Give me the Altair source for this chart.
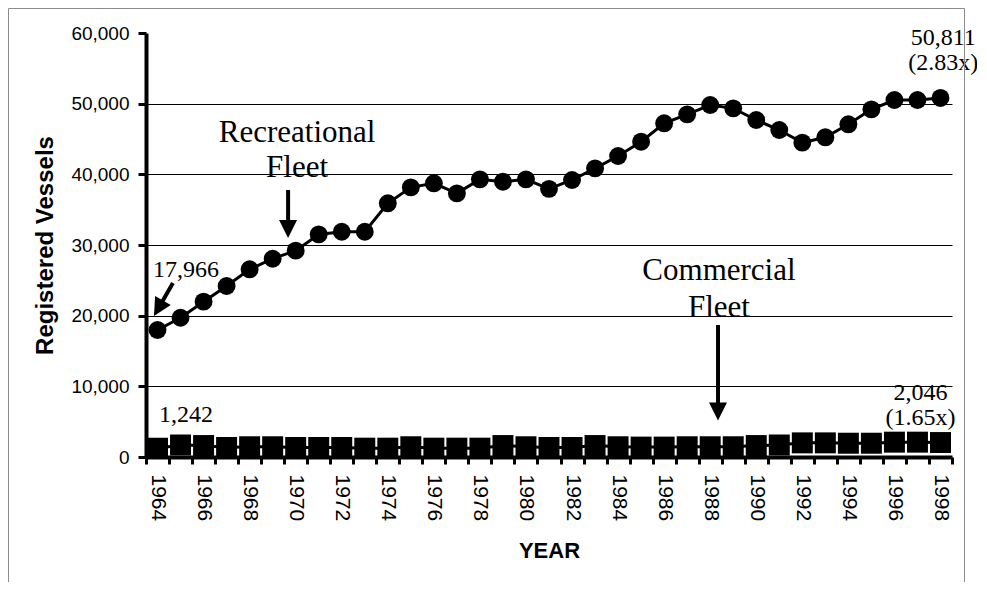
import altair as alt
import pandas as pd

# ---------------- data ----------------
years = list(range(1964, 1999))
recreational = [17966, 19710, 21980, 24200, 26560, 28060, 29200, 31500, 31880, 31880,
                35900, 38160, 38730, 37310, 39290, 38960, 39290, 37950, 39200, 40850,
                42590, 44620, 47220, 48490, 49810, 49340, 47690, 46270, 44480, 45240,
                47080, 49200, 50520, 50520, 50811]
commercial = [1242, 1700, 1620, 1350, 1450, 1450, 1350, 1350, 1350, 1250,
              1250, 1450, 1250, 1250, 1250, 1620, 1450, 1350, 1350, 1620,
              1450, 1400, 1400, 1450, 1450, 1450, 1620, 1700, 2000, 2000,
              1950, 1950, 2100, 2100, 2046]
y_ticks = [0, 10000, 20000, 30000, 40000, 50000, 60000]

# annotations (data coordinates)
note_text = ["17,966", "Recreational", "Fleet", "50,811", "(2.83x)",
             "Commercial", "Fleet", "1,242", "2,046", "(1.65x)"]
note_x = [1963.8, 1970.06, 1970.06, 1998.12, 1998.12,
          1988.38, 1988.38, 1964.06, 1997.13, 1997.13]
note_y = [25470, 44570, 39620, 58300, 54760,
          25045, 19810, 4950, 8065, 4530]
note_size = [24, 31, 31, 24, 24, 31, 31, 24, 24, 24]
note_align = ["left", "center", "center", "center", "center",
              "center", "center", "left", "center", "center"]

arrow_x1 = [1969.67, 1988.34, 1964.67]
arrow_y1 = [37780, 18680, 24620]
arrow_x2 = [1969.67, 1988.34, 1964.04]
arrow_y2 = [32400, 6600, 21055]
head_x = [1969.67, 1988.34, 1964.04]
head_y = [32260, 6440, 21055]
head_angle = [0, 0, 30]

# ---------------- layout ----------------
W, H = 806, 424
PAD_L, PAD_T, PAD_R, PAD_B = 138, 25, 25, 125
band = W / len(years)

rec_df = pd.DataFrame({"year": years, "value": recreational})
com_df = pd.DataFrame({"year": years, "value": commercial})
notes_df = pd.DataFrame({"text": note_text, "year": note_x, "value": note_y,
                         "size": note_size, "align": note_align})
arrows_df = pd.DataFrame({"year": arrow_x1, "value": arrow_y1, "x2": arrow_x2, "y2": arrow_y2})
heads_df = pd.DataFrame({"year": head_x, "value": head_y, "angle": head_angle})

x_scale = alt.Scale(domain=[years[0] - 0.5, years[-1] + 0.5], nice=False, zero=False)
y_scale = alt.Scale(domain=[y_ticks[0], y_ticks[-1]], nice=False)

tick_vals = [y - 0.5 for y in years] + [years[-1] + 0.5]
x_axis = alt.Axis(
    values=tick_vals,
    labelExpr="(datum.value + 0.5) % 2 == 0 ? format(datum.value + 0.5, 'd') : ''",
    labelOffset=band / 2, labelAngle=90, labelAlign="left", labelBaseline="middle",
    labelOverlap=False, labelFlush=False, labelBound=False,
    tickSize=7, tickWidth=3, tickColor="black",
    domainColor="black", domainWidth=4,
    labelFont="Liberation Sans", labelFontSize=21, labelColor="black", labelPadding=10,
    title="YEAR", titleFont="Liberation Sans", titleFontSize=22, titleFontWeight="bold",
    titleColor="black", titlePadding=20, grid=False,
)
y_axis = alt.Axis(
    values=y_ticks, format=",d",
    grid=True, gridColor="black", gridWidth=1,
    gridOpacity={"condition": {"test": "datum.value > 0 && datum.value < 60000", "value": 1}, "value": 0},
    tickSize=8, tickWidth=3, tickColor="black",
    domainColor="black", domainWidth=4,
    labelFont="Liberation Sans", labelFontSize=19, labelColor="black", labelPadding=9,
    title="Registered Vessels", titleFont="Liberation Sans", titleFontSize=24,
    titleFontWeight="bold", titleColor="black", titlePadding=13,
)

X = alt.X("year:Q", scale=x_scale, axis=x_axis)
Y = alt.Y("value:Q", scale=y_scale, axis=y_axis)

rec_line = alt.Chart(rec_df).mark_line(color="black", strokeWidth=3).encode(x=X, y=Y)
rec_pts = alt.Chart(rec_df).mark_point(shape="circle", filled=True, color="black",
                                       size=320, opacity=1).encode(x=X, y=Y)
com_line = alt.Chart(com_df).mark_line(color="black", strokeWidth=3).encode(x=X, y=Y)
com_pts = alt.Chart(com_df).mark_point(shape="square", filled=True, color="black",
                                       size=440, opacity=1).encode(x=X, y=Y)

arrows = alt.Chart(arrows_df).mark_rule(color="black", strokeWidth=4).encode(
    x=X, y=Y, x2="x2:Q", y2="y2:Q")
heads = alt.Chart(heads_df).mark_point(shape="M-1,-1L1,-1L0,1Z", filled=True, color="black",
                                       size=324, opacity=1).encode(
    x=X, y=Y, angle=alt.Angle("angle:Q", scale=None))

def note_layer(align):
    return alt.Chart(notes_df).transform_filter(
        alt.datum.align == align
    ).mark_text(align=align, baseline="alphabetic", font="Liberation Serif",
                color="black").encode(
        x=X, y=Y, text="text:N", size=alt.Size("size:Q", scale=None))

frame_df = pd.DataFrame({"k": [0]})
fl, ft, fr, fb = -PAD_L + 0.5, -PAD_T + 0.5, 818.5, H + PAD_B
frame_top = alt.Chart(frame_df).mark_rule(color="#8c8c8c", strokeWidth=1).encode(
    x=alt.value(fl), x2=alt.value(fr), y=alt.value(ft))
frame_left = alt.Chart(frame_df).mark_rule(color="#8c8c8c", strokeWidth=1).encode(
    x=alt.value(fl), y=alt.value(ft), y2=alt.value(fb))
frame_right = alt.Chart(frame_df).mark_rule(color="#8c8c8c", strokeWidth=1).encode(
    x=alt.value(fr), y=alt.value(ft), y2=alt.value(fb))

chart = alt.layer(
    rec_line, rec_pts, com_line, com_pts, arrows, heads,
    note_layer("left"), note_layer("center"),
    frame_top, frame_left, frame_right,
).properties(
    width=W, height=H,
    padding={"left": PAD_L, "top": PAD_T, "right": PAD_R, "bottom": PAD_B},
    autosize=alt.AutoSizeParams(type="none"),
    background="white",
).configure_view(stroke=None)

chart.save("out.html", embed_options={"renderer": "svg", "actions": False})
